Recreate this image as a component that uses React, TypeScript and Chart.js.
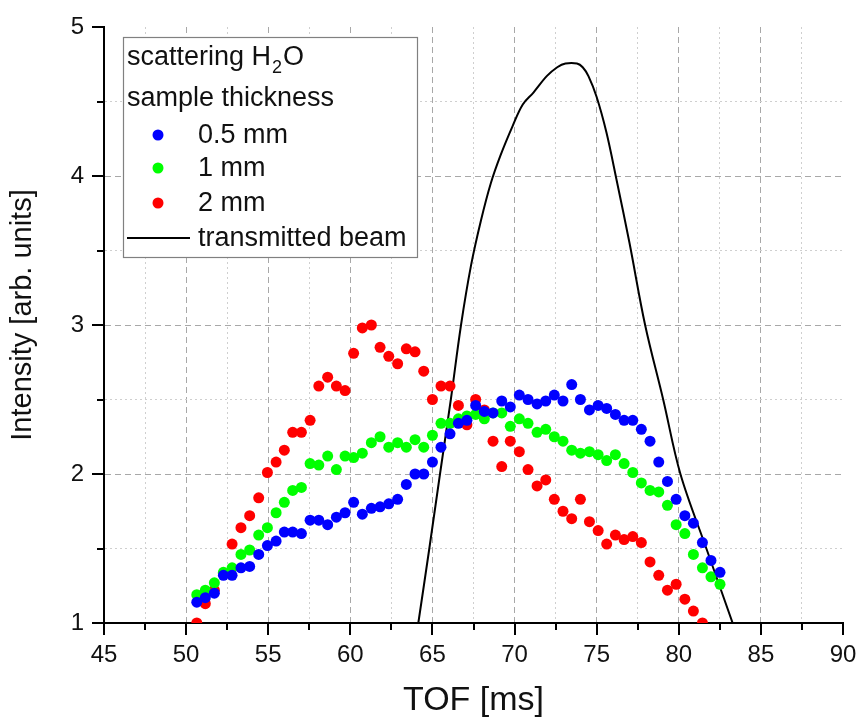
import React, { useEffect, useRef } from "react";
import { Chart, registerables } from "chart.js";

Chart.register(...registerables);

// ---- data ----
const TOF_MS = [
  50.65, 51.17, 51.72, 52.27, 52.8, 53.34, 53.87, 54.42, 54.95, 55.48,
  55.98, 56.49, 57.02, 57.55, 58.08, 58.62, 59.15, 59.68, 60.2, 60.73,
  61.28, 61.81, 62.34, 62.88, 63.41, 63.94, 64.47, 65.0, 65.52, 66.07,
  66.58, 67.1, 67.63, 68.16, 68.69, 69.22, 69.74, 70.29, 70.82, 71.37,
  71.9, 72.42, 72.95, 73.48, 74.01, 74.56, 75.09, 75.61, 76.14, 76.67,
  77.2, 77.72, 78.25, 78.78, 79.31, 79.84, 80.37, 80.89, 81.44, 81.96,
  82.51,
];

const THICK_05MM = [
  1.14, 1.17, 1.2, 1.32, 1.32, 1.37, 1.38, 1.46, 1.52, 1.55,
  1.61, 1.61, 1.6, 1.69, 1.69, 1.66, 1.71, 1.74, 1.81, 1.73,
  1.77, 1.78, 1.8, 1.83, 1.93, 2.0, 2.0, 2.08, 2.18, 2.27,
  2.34, 2.36, 2.46, 2.42, 2.41, 2.49, 2.45, 2.53, 2.5, 2.47,
  2.49, 2.53, 2.49, 2.6, 2.5, 2.43, 2.46, 2.44, 2.4, 2.36,
  2.36, 2.3, 2.22, 2.08, 1.95, 1.83, 1.72, 1.67, 1.54, 1.42,
  1.34,
];

const THICK_1MM = [
  1.19, 1.22, 1.27, 1.34, 1.37, 1.46, 1.49, 1.59, 1.64, 1.74,
  1.81, 1.89, 1.91, 2.07, 2.06, 2.12, 2.03, 2.12, 2.11, 2.14,
  2.21, 2.25, 2.18, 2.21, 2.18, 2.23, 2.18, 2.26, 2.34, 2.34,
  2.37, 2.39, 2.4, 2.37, 2.41, 2.41, 2.32, 2.37, 2.34, 2.28,
  2.3, 2.25, 2.22, 2.16, 2.14, 2.15, 2.13, 2.09, 2.13, 2.07,
  2.01, 1.94, 1.89, 1.88, 1.79, 1.66, 1.6, 1.46, 1.37, 1.31,
  1.26,
];

const THICK_2MM = [
  1.0, 1.13, 1.22, 1.33, 1.53, 1.64, 1.72, 1.84, 2.01, 2.08,
  2.16, 2.28, 2.28, 2.36, 2.59, 2.65, 2.59, 2.56, 2.81, 2.98,
  3.0, 2.85, 2.79, 2.74, 2.84, 2.82, 2.69, 2.5, 2.59, 2.59,
  2.46, 2.33, 2.5, 2.43, 2.22, 2.05, 2.22, 2.15, 2.03, 1.92,
  1.96, 1.83, 1.75, 1.7, 1.83, 1.68, 1.62, 1.53, 1.59, 1.56,
  1.58, 1.54, 1.41, 1.32, 1.22, 1.26, 1.16, 1.08, 1.0,
];

const BEAM_TOF = [
  64.14, 64.81, 65.46, 66.12, 66.74, 67.35, 67.95, 68.55, 69.15, 69.9,
  70.5, 71.15, 71.96, 72.6, 73.1, 73.8, 74.15, 74.5, 75.0, 75.6,
  76.2, 77.0, 77.95, 79.05, 80.1, 81.68, 83.28,
];
const BEAM_INT = [
  1.0, 1.5, 2.0, 2.5, 3.0, 3.4, 3.7, 3.95, 4.14, 4.34,
  4.48, 4.56, 4.67, 4.73, 4.755, 4.755, 4.73, 4.67, 4.53, 4.29,
  3.98, 3.55, 3.0, 2.5, 2.0, 1.5, 1.0,
];

const SERIES_LABELS = ["0.5 mm", "1 mm", "2 mm", "transmitted beam"];
const SERIES_COLORS = ["#0000ff", "#00ff00", "#ff0000", "#000000"];
const X_TITLE = "TOF [ms]";
const Y_TITLE = "Intensity [arb. units]";
const LEGEND_HEAD = ["scattering H", "2", "O"];
const LEGEND_SUB = "sample thickness";

const FONT = "'Liberation Sans', Arial, Helvetica, sans-serif";

const pts = (xs: number[], ys: number[]) => ys.map((y, i) => ({ x: xs[i], y }));

const isMajorX = (v: number) => Math.abs(v / 5 - Math.round(v / 5)) < 1e-6;
const isMajorY = (v: number) => Math.abs(v - Math.round(v)) < 1e-6;

const tickMarks = {
  id: "tickMarks",
  afterDraw(chart: any) {
    const { ctx, chartArea } = chart;
    const xs = chart.scales.x;
    const ys = chart.scales.y;
    ctx.save();
    ctx.strokeStyle = "#000";
    ctx.lineWidth = 2;
    ctx.beginPath();
    xs.ticks.forEach((t: any) => {
      const px = Math.round(xs.getPixelForValue(t.value));
      const len = isMajorX(t.value) ? 12 : 7;
      ctx.moveTo(px, chartArea.bottom);
      ctx.lineTo(px, chartArea.bottom + len);
    });
    ys.ticks.forEach((t: any) => {
      const py = Math.round(ys.getPixelForValue(t.value));
      const len = isMajorY(t.value) ? 12 : 7;
      ctx.moveTo(chartArea.left, py);
      ctx.lineTo(chartArea.left - len, py);
    });
    ctx.stroke();

    // y-axis title
    ctx.fillStyle = "#111";
    ctx.font = `29px ${FONT}`;
    ctx.textAlign = "center";
    ctx.textBaseline = "middle";
    ctx.translate(23, (chartArea.top + chartArea.bottom) / 2 - 10);
    ctx.rotate(-Math.PI / 2);
    ctx.fillText(Y_TITLE, 0, 0);
    ctx.restore();
  },
};

const boxLegend = {
  id: "boxLegend",
  afterDraw(chart: any) {
    const { ctx, chartArea } = chart;
    const L = chartArea.left + 19;
    const T = chartArea.top + 10;
    const W = 294;
    const H = 220;
    ctx.save();
    ctx.fillStyle = "#ffffff";
    ctx.fillRect(L, T, W, H);
    ctx.strokeStyle = "#808080";
    ctx.lineWidth = 1.2;
    ctx.strokeRect(L + 0.5, T + 0.5, W, H);

    ctx.fillStyle = "#111";
    ctx.textAlign = "left";
    ctx.textBaseline = "alphabetic";
    const big = `27px ${FONT}`;
    const small = `18px ${FONT}`;
    ctx.font = big;
    let x = L + 4;
    const b1 = T + 28;
    ctx.fillText(LEGEND_HEAD[0], x, b1);
    x += ctx.measureText(LEGEND_HEAD[0]).width;
    ctx.font = small;
    ctx.fillText(LEGEND_HEAD[1], x + 1, b1 + 8);
    x += ctx.measureText(LEGEND_HEAD[1]).width + 2;
    ctx.font = big;
    ctx.fillText(LEGEND_HEAD[2], x, b1);

    ctx.textBaseline = "middle";
    ctx.fillText(LEGEND_SUB, L + 4, T + 62);

    const rows = [T + 98, T + 131, T + 166, T + 201];
    for (let i = 0; i < 4; i++) {
      const y = rows[i];
      if (i < 3) {
        ctx.fillStyle = SERIES_COLORS[i];
        ctx.beginPath();
        ctx.arc(L + 35, y, 5.5, 0, Math.PI * 2);
        ctx.fill();
      } else {
        ctx.strokeStyle = SERIES_COLORS[3];
        ctx.lineWidth = 2;
        ctx.beginPath();
        ctx.moveTo(L + 4, y);
        ctx.lineTo(L + 67, y);
        ctx.stroke();
      }
      ctx.fillStyle = "#111";
      ctx.font = big;
      ctx.fillText(SERIES_LABELS[i], L + 75, y + 1);
    }
    ctx.restore();
  },
};

export default function App() {
  const ref = useRef<HTMLCanvasElement | null>(null);

  useEffect(() => {
    document.body.style.margin = "0";
    if (!ref.current) return;
    const gridColor = (major: (v: number) => boolean, min: number, max: number) => (c: any) => {
      const v = c.tick ? c.tick.value : NaN;
      if (!c.tick || Math.abs(v - min) < 1e-6 || Math.abs(v - max) < 1e-6) return "rgba(0,0,0,0)";
      return major(v) ? "#a8a8a8" : "#cfcfcf";
    };
    const gridDash = (major: (v: number) => boolean) => (c: any) => {
      if (!c.tick) return [];
      return major(c.tick.value) ? [6, 4] : [2, 3];
    };

    const chart = new Chart(ref.current, {
      type: "scatter",
      data: {
        datasets: [
          {
            label: SERIES_LABELS[0],
            data: pts(TOF_MS, THICK_05MM),
            backgroundColor: SERIES_COLORS[0],
            borderWidth: 0,
            pointRadius: 5.5,
            clip: 0,
          },
          {
            label: SERIES_LABELS[1],
            data: pts(TOF_MS, THICK_1MM),
            backgroundColor: SERIES_COLORS[1],
            borderWidth: 0,
            pointRadius: 5.5,
            clip: 0,
          },
          {
            label: SERIES_LABELS[2],
            data: pts(TOF_MS, THICK_2MM),
            backgroundColor: SERIES_COLORS[2],
            borderWidth: 0,
            pointRadius: 5.5,
            clip: 0,
          },
          {
            label: SERIES_LABELS[3],
            data: pts(BEAM_TOF, BEAM_INT),
            showLine: true,
            borderColor: SERIES_COLORS[3],
            borderWidth: 2,
            pointRadius: 0,
            tension: 0.35,
            clip: 0,
          } as any,
        ],
      },
      options: {
        animation: false,
        responsive: false,
        devicePixelRatio: 1,
        layout: { padding: { left: 0, right: 16, top: 27, bottom: 0 } },
        plugins: {
          legend: { display: false },
          tooltip: { enabled: false },
        },
        scales: {
          x: {
            type: "linear",
            min: 45,
            max: 90,
            afterFit: (s: any) => {
              s.height = 95;
              s.paddingLeft = 0;
              s.paddingRight = 0;
            },
            ticks: {
              stepSize: 2.5,
              autoSkip: false,
              maxRotation: 0,
              padding: 18,
              color: "#111",
              font: { family: FONT, size: 24 },
              callback: (v: any) => (isMajorX(Number(v)) ? String(v) : ""),
            },
            grid: {
              drawTicks: false,
              color: gridColor(isMajorX, 45, 90),
              lineWidth: 1,
            },
            border: {
              display: true,
              color: "#000",
              width: 2,
              dash: gridDash(isMajorX),
            } as any,
            title: {
              display: true,
              text: X_TITLE,
              color: "#111",
              font: { family: FONT, size: 34, lineHeight: 1 },
              padding: { top: 0, bottom: 0 },
            },
          },
          y: {
            type: "linear",
            min: 1,
            max: 5,
            afterFit: (s: any) => {
              s.width = 104;
              s.paddingTop = 0;
              s.paddingBottom = 0;
            },
            ticks: {
              stepSize: 0.5,
              autoSkip: false,
              padding: 20,
              color: "#111",
              font: { family: FONT, size: 24 },
              callback: (v: any) => (isMajorY(Number(v)) ? String(v) : ""),
            },
            grid: {
              drawTicks: false,
              color: gridColor(isMajorY, 1, 5),
              lineWidth: 1,
            },
            border: {
              display: true,
              color: "#000",
              width: 2,
              dash: gridDash(isMajorY),
            } as any,
            title: { display: false },
          },
        },
      },
      plugins: [tickMarks, boxLegend],
    });
    return () => chart.destroy();
  }, []);

  return (
    <div style={{ width: 859, height: 718 }}>
      <canvas ref={ref} width={859} height={718} />
    </div>
  );
}
